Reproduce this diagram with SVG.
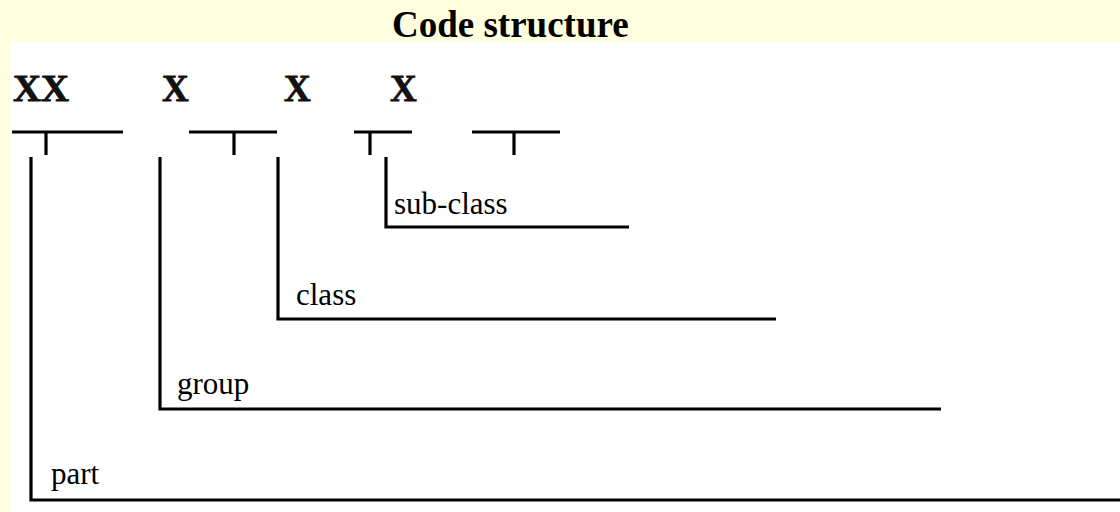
<svg xmlns="http://www.w3.org/2000/svg" width="1120" height="512" viewBox="0 0 1120 512">
<style>
.title{font-family:"Liberation Serif","Times New Roman",serif;font-weight:bold;font-size:37px;fill:#000}
.code{font-family:"Liberation Serif","Times New Roman",serif;font-weight:bold;font-size:37px;fill:#111;stroke:#111;stroke-width:0.8}
.lbl{font-family:"Liberation Serif","Times New Roman",serif;font-size:31px;fill:#000}
.ln{stroke:#000;stroke-width:3.2;fill:none;stroke-linecap:butt}
</style>
<rect x="0" y="0" width="1120" height="512" fill="#ffffe0"/>
<rect x="10" y="42" width="1110" height="470" fill="#ffffff"/>
<g id="title"><text class="title" x="392" y="37">Code structure</text></g>
<g id="code">
<text class="code" x="13" y="101" textLength="56" lengthAdjust="spacingAndGlyphs">XX</text>
<text class="code" x="162" y="101">X</text>
<text class="code" x="284" y="101">X</text>
<text class="code" x="390" y="101">X</text>
</g>
<g id="brackets">
<path class="ln" d="M12 132H123M46 132V155"/>
<path class="ln" d="M189 132H277M234 132V155"/>
<path class="ln" d="M354 132H412M370 132V155"/>
<path class="ln" d="M472 132H560M514 132V155"/>
</g>
<g id="connectors">
<path class="ln" d="M31 157V500H1120"/>
<path class="ln" d="M160 157V409H941"/>
<path class="ln" d="M278 157V319H776"/>
<path class="ln" d="M386 157V227H629"/>
</g>
<g id="sub-class"><text class="lbl" x="394" y="214">sub-class</text></g>
<g id="class"><text class="lbl" x="296" y="305">class</text></g>
<g id="group"><text class="lbl" x="177" y="394">group</text></g>
<g id="part"><text class="lbl" x="51" y="484">part</text></g>
</svg>
